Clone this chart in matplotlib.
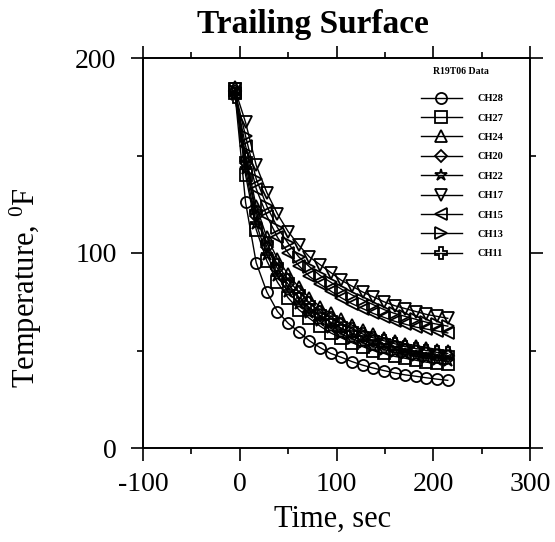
import matplotlib
matplotlib.use("Agg")
import matplotlib.pyplot as plt
from matplotlib.ticker import MultipleLocator

plt.rcParams["axes.unicode_minus"] = False
plt.rcParams["mathtext.fontset"] = "custom"
plt.rcParams["mathtext.rm"] = "Liberation Serif"
plt.rcParams["mathtext.it"] = "Liberation Serif:italic"
plt.rcParams["mathtext.bf"] = "Liberation Serif:bold"

# Sample times (s) shared by every channel
time_s = [-5, 6, 17, 28, 39, 50, 61, 72, 83, 94, 105, 116, 127, 138, 149, 160, 171, 182, 193, 204, 215]

# Thermocouple temperatures (deg F)
ch28 = [182, 126, 95, 80, 70, 64, 59.5, 55, 51.5, 48.5, 46.5, 44.3, 42.5, 41, 39.7, 38.5, 37.5, 36.8, 36, 35.3, 34.7]
ch27 = [184, 140, 112, 96, 85, 77, 71, 66.5, 62.5, 59, 56.5, 54, 52, 50, 48.5, 47, 46, 45, 44, 43.5, 43]
ch24 = [185, 150, 124, 108, 97, 89, 82.5, 77, 72.5, 69, 66, 63, 60.5, 58.5, 56.5, 55, 53.5, 52.5, 51.5, 50.5, 50]
ch20 = [183, 146, 119, 103, 92, 84, 77.5, 72, 68, 64.5, 61.5, 59, 57, 55, 53.5, 52, 50.5, 49.5, 48.5, 47.5, 47]
ch22 = [181, 143, 115, 99, 88, 80, 74, 69, 65, 61.5, 58.5, 56, 54, 52, 50.5, 49, 48, 47, 46, 45, 44.5]
ch17 = [184, 167, 145, 131, 120, 111, 104, 98, 94, 90, 86, 83, 80, 77.5, 75, 73, 71.5, 70, 68.5, 67.5, 66.5]
ch15 = [182, 155, 133, 119, 108, 100, 93.5, 88, 84, 80.5, 77, 74, 71.5, 69, 67, 65, 63.5, 62, 61, 60, 59]
ch13 = [183, 160, 138, 124, 113, 105, 98, 93, 88.5, 85, 81.5, 78.5, 76, 73.5, 71, 69, 67.5, 66, 64.5, 63.5, 62.5]
ch11 = [180, 148, 121, 105, 94, 86, 80, 74.5, 70, 66.5, 63.5, 61, 58.5, 56.5, 55, 53.5, 52, 51, 50, 49, 48.5]

channels = ["CH28", "CH27", "CH24", "CH20", "CH22", "CH17", "CH15", "CH13", "CH11"]
series = [ch28, ch27, ch24, ch20, ch22, ch17, ch15, ch13, ch11]
markers = ["o", "s", "^", "D", "*", "v", "<", ">", "P"]
msizes = [8, 8, 8.5, 6.5, 9, 8.5, 8.5, 8.5, 8.5]

serif = ["Liberation Serif", "DejaVu Serif"]

fig = plt.figure(figsize=(5.55, 5.42), dpi=100)
ax = fig.add_axes([143 / 555, 1 - 448 / 542, (530 - 143) / 555, (448 - 58) / 542])

handles = []
for name, vals, mk, ms in zip(channels, series, markers, msizes):
    (ln,) = ax.plot(time_s, vals, color="black", lw=1.0, marker=mk, ms=ms,
                    mfc="none", mec="black", mew=1.3, label=name)
    handles.append(ln)

ax.set_xlim(-100, 300)
ax.set_ylim(0, 200)
ax.xaxis.set_major_locator(MultipleLocator(100))
ax.xaxis.set_minor_locator(MultipleLocator(50))
ax.yaxis.set_major_locator(MultipleLocator(100))
ax.yaxis.set_minor_locator(MultipleLocator(50))
ax.tick_params(which="both", direction="out", top=True, right=True, width=1.2, color="black")
ax.tick_params(which="major", length=9, labelsize=20)
ax.tick_params(axis="x", which="major", pad=8)
ax.tick_params(axis="y", which="major", pad=10)
ax.tick_params(which="minor", length=4)
for lab in ax.get_xticklabels() + ax.get_yticklabels():
    lab.set_family(serif)
for sp in ax.spines.values():
    sp.set_linewidth(1.4)

ax.set_xlabel("Time, sec", family=serif, fontsize=22)
ax.set_ylabel(r"Temperature, $^{0}$F", family=serif, fontsize=22)
ax.xaxis.set_label_coords(0.49, -0.145)
ax.yaxis.set_label_coords(-0.255, 0.41)

fig.text(313 / 555, 1 - 25 / 542, "Trailing Surface", family=serif, fontsize=24,
         fontweight="bold", ha="center", va="center")

ax.text((461 - 143) / 387, (448 - 72) / 390, "R19T06 Data", transform=ax.transAxes,
        family=serif, fontweight="bold", fontsize=7, ha="center", va="center")

ax.legend(handles=handles, loc="upper left",
          bbox_to_anchor=((421 - 143) / 387, (448 - 94) / 390),
          frameon=False, prop={"family": serif, "weight": "bold", "size": 7.5},
          handlelength=3.9, handletextpad=1.55, labelspacing=0.97,
          borderpad=0, borderaxespad=0)

fig.savefig("out.png", dpi=100)
